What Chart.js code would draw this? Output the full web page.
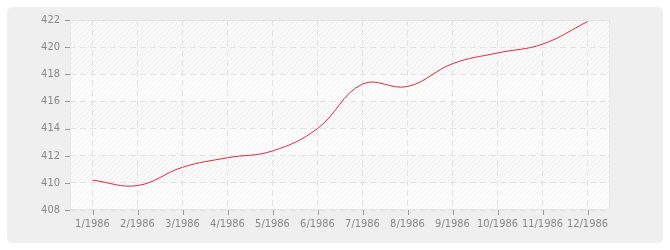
<!DOCTYPE html>
<html>
<head>
<meta charset="utf-8">
<script src="https://cdn.jsdelivr.net/npm/chart.js@4/dist/chart.umd.min.js"></script>
<style>
html,body{margin:0;padding:0;background:#fff;}
#wrap{width:670px;height:250px;position:relative;}
</style>
</head>
<body>
<div id="wrap"><canvas id="c" width="670" height="250"></canvas></div>
<script>
const categories = ["1/1986","2/1986","3/1986","4/1986","5/1986","6/1986","7/1986","8/1986","9/1986","10/1986","11/1986","12/1986"];
const values = [410.2, 409.8, 411.15, 411.85, 412.35, 414.0, 417.28, 417.1, 418.78, 419.57, 420.22, 421.88];
const yMin = 408, yMax = 422, yStep = 2;

function makeHatch(){
  const p = document.createElement('canvas');
  p.width = 5; p.height = 5;
  const g = p.getContext('2d');
  g.fillStyle = '#fafafa';
  g.fillRect(0,0,5,5);
  g.strokeStyle = '#ececec';
  g.lineWidth = 1;
  g.beginPath();
  g.moveTo(-1,6); g.lineTo(6,-1);
  g.moveTo(-1,1); g.lineTo(1,-1);
  g.moveTo(4,6); g.lineTo(6,4);
  g.stroke();
  return p;
}

const bgPlugin = {
  id:'bg',
  beforeDraw(chart){
    const ctx = chart.ctx, a = chart.chartArea;
    ctx.save();
    ctx.fillStyle = '#efefef';
    const x=7,y=7,w=656,h=236,r=6;
    ctx.beginPath();
    ctx.moveTo(x+r,y);ctx.lineTo(x+w-r,y);ctx.quadraticCurveTo(x+w,y,x+w,y+r);
    ctx.lineTo(x+w,y+h-r);ctx.quadraticCurveTo(x+w,y+h,x+w-r,y+h);
    ctx.lineTo(x+r,y+h);ctx.quadraticCurveTo(x,y+h,x,y+h-r);
    ctx.lineTo(x,y+r);ctx.quadraticCurveTo(x,y,x+r,y);
    ctx.closePath();ctx.fill();
    const pat = ctx.createPattern(makeHatch(),'repeat');
    ctx.fillStyle = pat;
    ctx.fillRect(a.left,a.top,a.right-a.left,a.bottom-a.top);
    const ys = chart.scales.y;
    ctx.fillStyle = 'rgba(255,255,255,0.4)';
    for(let v=yMin; v<yMax-yStep; v+=2*yStep){
      const t = ys.getPixelForValue(v+yStep), b = ys.getPixelForValue(v);
      ctx.fillRect(a.left,t,a.right-a.left,b-t);
    }
    ctx.strokeStyle = '#e6e6e6';
    ctx.lineWidth = 1;
    ctx.strokeRect(a.left+0.5,a.top+0.5,a.right-a.left-1,a.bottom-a.top-1);
    ctx.restore();
  },
  afterDraw(chart){
    const ctx = chart.ctx, a = chart.chartArea;
    ctx.save();
    ctx.strokeStyle = '#9a9a9a';
    ctx.lineWidth = 1;
    ctx.beginPath();
    const ys = chart.scales.y, xs = chart.scales.x;
    ys.ticks.forEach((t,i)=>{
      const p = Math.round(ys.getPixelForTick(i))+0.5;
      ctx.moveTo(a.left-5,p); ctx.lineTo(a.left,p);
    });
    xs.ticks.forEach((t,i)=>{
      const p = Math.round(xs.getPixelForTick(i))+0.5;
      ctx.moveTo(p,a.bottom); ctx.lineTo(p,a.bottom+5);
    });
    ctx.stroke();
    ctx.restore();
  }
};

const font = {family:'"DejaVu Sans Condensed","DejaVu Sans",sans-serif', size:11};

new Chart(document.getElementById('c'),{
  type:'line',
  data:{labels:categories,datasets:[{
    data:values,
    borderColor:'#dc2a44',
    borderWidth:1,
    pointRadius:0,
    tension:0.4,
    fill:false
  }]},
  options:{
    responsive:false,
    animation:false,
    devicePixelRatio:1,
    layout:{padding:{left:0,right:60,top:20,bottom:0}},
    plugins:{legend:{display:false},tooltip:{enabled:false}},
    scales:{
      x:{
        offset:true,
        grid:{color:'#e2e2e2',drawTicks:false,offset:false},
        border:{display:false,dash:[6,4]},
        ticks:{color:'#888',font:font,padding:8,maxRotation:0,autoSkip:false},
        afterFit(s){s.height=40;}
      },
      y:{
        min:yMin,max:yMax,
        grid:{color:'#e2e2e2',drawTicks:false},
        border:{display:false,dash:[6,4]},
        ticks:{stepSize:yStep,color:'#888',font:font,padding:10},
        afterFit(s){s.width=70;}
      }
    }
  },
  plugins:[bgPlugin]
});
</script>
</body>
</html>
